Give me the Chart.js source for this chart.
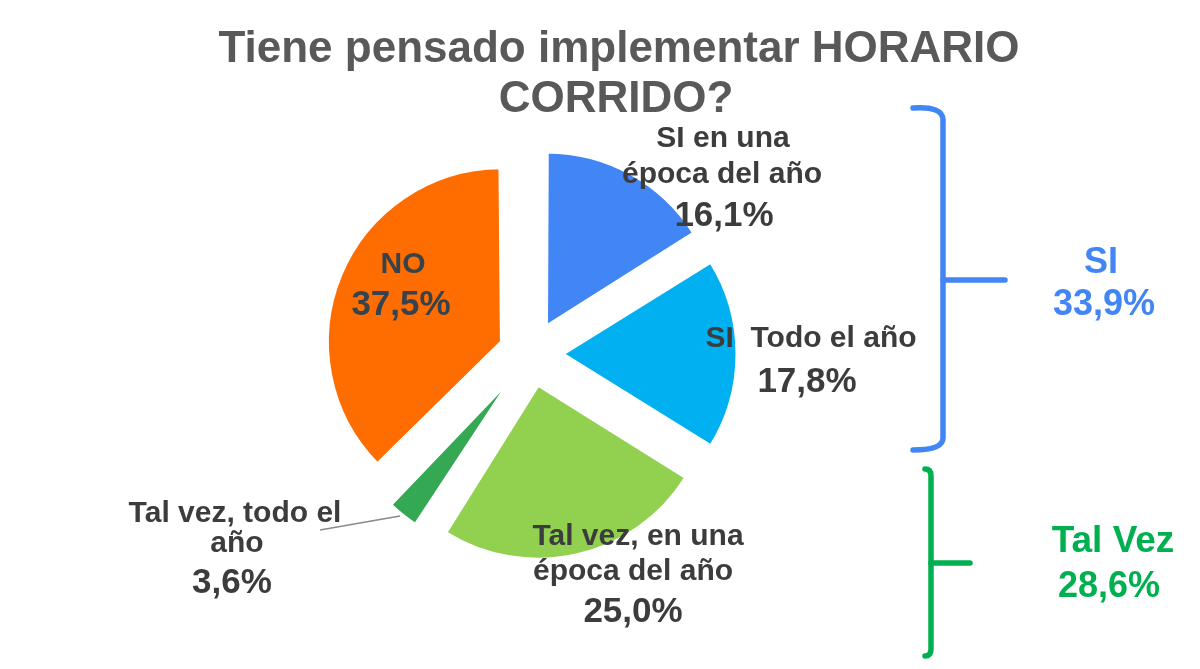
<!DOCTYPE html>
<html>
<head>
<meta charset="utf-8">
<script src="https://cdn.jsdelivr.net/npm/chart.js@4.4.1/dist/chart.umd.min.js"></script>
<style>
  html, body { margin: 0; padding: 0; background: #ffffff; }
  #wrap { width: 1200px; height: 669px; position: relative; }
</style>
</head>
<body>
<div id="wrap"><canvas id="c" width="1200" height="669"></canvas></div>
<script>
// ---- data ----
const titleLines = ['Tiene pensado implementar HORARIO', 'CORRIDO?'];
const categories = ['SI en una época del año', 'SI Todo el año', 'Tal vez, en una época del año', 'Tal vez, todo el año', 'NO'];
const labelLines = [['SI en una', 'época del año'], ['SI\u00A0 Todo el año'], ['Tal vez, en una', 'época del año'], ['Tal vez, todo el', 'año'], ['NO']];
const values = [16.1, 17.8, 25.0, 3.6, 37.5];
const sliceColors = ['#4285F4', '#00B0F0', '#92D050', '#34A853', '#FF6D01'];
const groupNames = ['SI', 'Tal Vez'];
const groupValues = [33.9, 28.6];
const groupColors = ['#4285F4', '#00B050'];

// ---- style / layout ----
const PIE_RADIUS = 174;
const EXPLODE = 128;          // Chart.js arc offset (drawn as EXPLODE/4 px)
const labelLayout = [
  { x: [723, 722, 724], y: [147, 183, 226] },
  { x: [811, 807], y: [347, 392] },
  { x: [638, 633, 633], y: [545, 580, 622] },
  { x: [235, 237, 232], y: [522, 552, 593] },
  { x: [403, 401], y: [273, 315] }
];
const labelColors = ['#3c3c3c', '#3c3c3c', '#3c3c3c', '#3c3c3c', '#36424c'];

const fmt = v => v.toFixed(1).replace('.', ',') + '%';
const FONT = '"Liberation Sans", Arial, sans-serif';

// keep every exploded slice at the same visual radius
const radiusFix = {
  id: 'radiusFix',
  beforeDatasetsDraw(chart) {
    const meta = chart.getDatasetMeta(0);
    const off = EXPLODE / 4;
    meta.data.forEach(arc => {
      const fix = 1 - Math.sin(Math.min(Math.PI, arc.circumference));
      arc.outerRadius = PIE_RADIUS - off * fix;
    });
  }
};

const overlay = {
  id: 'overlay',
  afterDraw(chart) {
    const ctx = chart.ctx;
    ctx.save();
    // title
    ctx.fillStyle = '#595959';
    ctx.textAlign = 'center';
    ctx.textBaseline = 'alphabetic';
    ctx.font = 'bold 44px ' + FONT;
    ctx.fillText(titleLines[0], 619, 62);
    ctx.fillText(titleLines[1], 616, 112);

    // leader line for small slice
    ctx.strokeStyle = '#8a8a8a';
    ctx.lineWidth = 1.5;
    ctx.beginPath();
    ctx.moveTo(320, 530);
    ctx.lineTo(400, 516);
    ctx.stroke();

    // slice labels
    labelLines.forEach((lines, i) => {
      const L = labelLayout[i];
      ctx.fillStyle = labelColors[i];
      lines.forEach((t, k) => {
        ctx.font = 'bold 30px ' + FONT;
        ctx.fillText(t, L.x[k], L.y[k]);
      });
      ctx.font = 'bold 35px ' + FONT;
      ctx.fillText(fmt(values[i]), L.x[lines.length], L.y[lines.length]);
    });

    // brackets
    ctx.lineCap = 'round';
    ctx.lineJoin = 'round';
    ctx.lineWidth = 5.5;
    ctx.strokeStyle = groupColors[0];
    ctx.beginPath();
    ctx.moveTo(913, 108);
    ctx.quadraticCurveTo(943, 106, 943, 120);
    ctx.lineTo(943, 438);
    ctx.quadraticCurveTo(943, 450, 913, 450);
    ctx.stroke();
    ctx.beginPath();
    ctx.moveTo(943, 280);
    ctx.lineTo(1005, 280);
    ctx.stroke();

    ctx.strokeStyle = groupColors[1];
    ctx.beginPath();
    ctx.moveTo(925, 469);
    ctx.quadraticCurveTo(931, 469, 931, 476);
    ctx.lineTo(931, 649);
    ctx.quadraticCurveTo(931, 656, 925, 656);
    ctx.stroke();
    ctx.beginPath();
    ctx.moveTo(931, 563);
    ctx.lineTo(970, 563);
    ctx.stroke();

    // group labels
    ctx.fillStyle = groupColors[0];
    ctx.font = 'bold 36px ' + FONT;
    ctx.fillText(groupNames[0], 1101, 273);
    ctx.fillText(fmt(groupValues[0]), 1104, 315);
    ctx.fillStyle = groupColors[1];
    ctx.font = 'bold 37px ' + FONT;
    ctx.fillText(groupNames[1], 1113, 552);
    ctx.font = 'bold 36px ' + FONT;
    ctx.fillText(fmt(groupValues[1]), 1109, 597);
    ctx.restore();
  }
};

new Chart(document.getElementById('c'), {
  type: 'pie',
  data: {
    labels: categories,
    datasets: [{
      data: values,
      backgroundColor: sliceColors,
      borderColor: '#ffffff',
      borderWidth: 3,
      offset: EXPLODE
    }]
  },
  options: {
    responsive: false,
    animation: false,
    radius: PIE_RADIUS,
    layout: { padding: { left: 0, right: 138, top: 39, bottom: 0 } },
    plugins: {
      legend: { display: false },
      title: { display: false },
      tooltip: { enabled: false }
    }
  },
  plugins: [radiusFix, overlay]
});
</script>
</body>
</html>
